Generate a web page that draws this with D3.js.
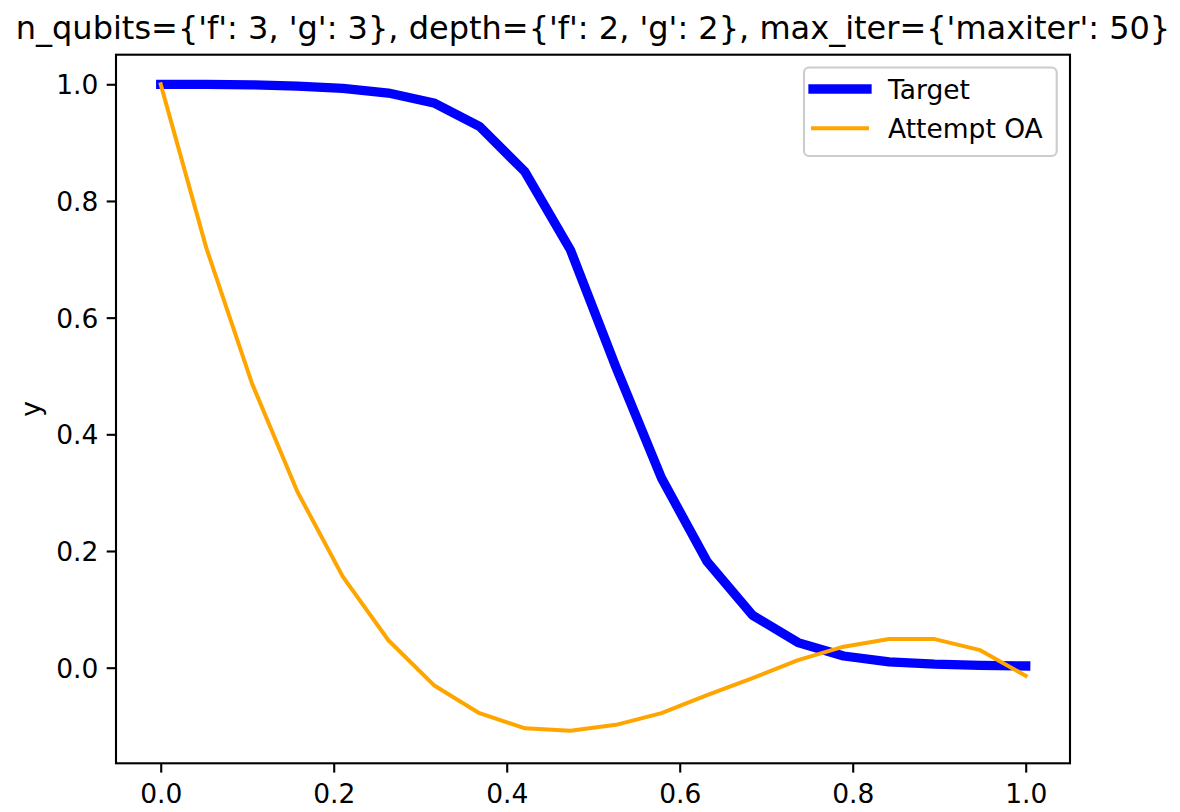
<!DOCTYPE html>
<html>
<head>
<meta charset="utf-8">
<script src="https://cdn.jsdelivr.net/npm/d3@7/dist/d3.min.js"></script>
<style>
  html, body { margin: 0; padding: 0; background: #fff; }
  svg { display: block; font-family: "DejaVu Sans", sans-serif; }
</style>
</head>
<body>
<svg id="chart" width="1180" height="812"></svg>
<script>
// Sample positions (20 evenly spaced points on [0, 1])
const xValues = [0.0000, 0.0526, 0.1053, 0.1579, 0.2105, 0.2632, 0.3158, 0.3684, 0.4211, 0.4737,
                 0.5263, 0.5789, 0.6316, 0.6842, 0.7368, 0.7895, 0.8421, 0.8947, 0.9474, 1.0000];

// Target curve
const targetValues = [1.000, 1.000, 0.999, 0.997, 0.993, 0.985, 0.968, 0.928, 0.850, 0.716,
                      0.515, 0.325, 0.182, 0.090, 0.043, 0.020, 0.010, 0.006, 0.004, 0.003];

// Attempt OA curve
const attemptValues = [1.000, 0.720, 0.488, 0.302, 0.156, 0.047, -0.030, -0.078, -0.104, -0.108,
                       -0.098, -0.078, -0.047, -0.018, 0.013, 0.036, 0.049, 0.049, 0.030, -0.014];

const xTicks = [0.0, 0.2, 0.4, 0.6, 0.8, 1.0];
const yTicks = [0.0, 0.2, 0.4, 0.6, 0.8, 1.0];
const xLimits = [-0.0517, 1.0512];
const yLimits = [-0.1639, 1.0507];

const titleText = "n_qubits={'f': 3, 'g': 3}, depth={'f': 2, 'g': 2}, max_iter={'maxiter': 50}";
const yLabel = "y";
const seriesNames = ["Target", "Attempt OA"];
const seriesColors = ["#0000ff", "#ffa500"];
const seriesWidths = [9.3, 4];

// Axes box
const plot = { left: 116, right: 1070, top: 54.7, bottom: 763.3 };
const fontSize = 26.5;

const svg = d3.select("#chart");

const x = d3.scaleLinear().domain(xLimits).range([plot.left, plot.right]);
const y = d3.scaleLinear().domain(yLimits).range([plot.bottom, plot.top]);

svg.append("defs").append("clipPath").attr("id", "plot-clip")
  .append("rect")
  .attr("x", plot.left).attr("y", plot.top)
  .attr("width", plot.right - plot.left).attr("height", plot.bottom - plot.top);

// Lines
const line = d3.line().x(d => x(d[0])).y(d => y(d[1]));
const series = [targetValues, attemptValues];
series.forEach((vals, i) => {
  svg.append("path")
    .datum(xValues.map((xv, j) => [xv, vals[j]]))
    .attr("d", line)
    .attr("fill", "none")
    .attr("stroke", seriesColors[i])
    .attr("stroke-width", seriesWidths[i])
    .attr("stroke-linecap", "square")
    .attr("stroke-linejoin", "round")
    .attr("clip-path", "url(#plot-clip)");
});

// Axes
const tickLen = 9.3;
const tickPad = 9.3;

const xAxis = d3.axisBottom(x).tickValues(xTicks).tickFormat(d3.format(".1f"))
  .tickSizeInner(tickLen).tickSizeOuter(0).tickPadding(tickPad);
const yAxis = d3.axisLeft(y).tickValues(yTicks).tickFormat(d3.format(".1f"))
  .tickSizeInner(tickLen).tickSizeOuter(0).tickPadding(tickPad);

const gx = svg.append("g").attr("transform", `translate(0,${plot.bottom})`).call(xAxis);
const gy = svg.append("g").attr("transform", `translate(${plot.left},0)`).call(yAxis);

[gx, gy].forEach(g => {
  g.select(".domain").remove();
  g.selectAll(".tick line").attr("stroke", "#000").attr("stroke-width", 2.1);
  g.selectAll(".tick text")
    .attr("fill", "#000")
    .attr("font-size", fontSize)
    .attr("font-family", "DejaVu Sans, sans-serif");
});
gx.selectAll(".tick text").attr("dy", null).attr("y", 803.3 - plot.bottom);
gy.selectAll(".tick text").attr("dy", null).attr("x", -(tickLen + tickPad) + 1)
  .attr("y", fontSize * 0.3645);

// Frame
svg.append("rect")
  .attr("x", plot.left).attr("y", plot.top)
  .attr("width", plot.right - plot.left).attr("height", plot.bottom - plot.top)
  .attr("fill", "none").attr("stroke", "#000").attr("stroke-width", 2.1)
  .attr("stroke-linecap", "square");

// Title
svg.append("text")
  .attr("x", (plot.left + plot.right) / 2)
  .attr("y", plot.top - 16)
  .attr("text-anchor", "middle")
  .attr("font-size", 32)
  .attr("fill", "#000")
  .text(titleText);

// Y label
svg.append("text")
  .attr("transform", `translate(40,${(plot.top + plot.bottom) / 2}) rotate(-90)`)
  .attr("text-anchor", "middle")
  .attr("font-size", fontSize)
  .attr("fill", "#000")
  .text(yLabel);

// Legend
const legend = svg.append("g");
legend.append("rect")
  .attr("x", 804).attr("y", 67.5)
  .attr("width", 1056.7 - 804).attr("height", 156 - 67.5)
  .attr("rx", 5).attr("ry", 5)
  .attr("fill", "#fff").attr("fill-opacity", 0.8)
  .attr("stroke", "#cccccc").attr("stroke-width", 2.1);

const rowY = [89, 128.3];
seriesNames.forEach((name, i) => {
  legend.append("line")
    .attr("x1", 813).attr("x2", 867)
    .attr("y1", rowY[i]).attr("y2", rowY[i])
    .attr("stroke", seriesColors[i])
    .attr("stroke-width", seriesWidths[i])
    .attr("stroke-linecap", "square");
  legend.append("text")
    .attr("x", 888)
    .attr("y", rowY[i] + fontSize * 0.3645)
    .attr("font-size", fontSize)
    .attr("fill", "#000")
    .text(name);
});
</script>
</body>
</html>
